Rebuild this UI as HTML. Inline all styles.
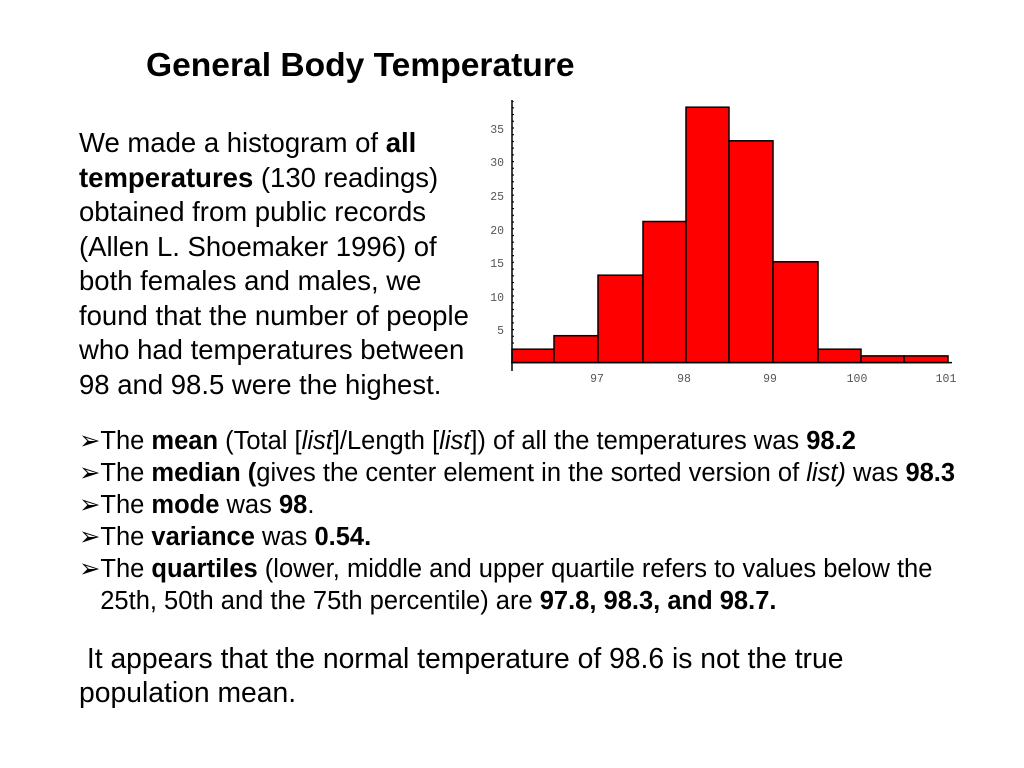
<!DOCTYPE html>
<html><head><meta charset="utf-8"><style>
body{margin:0;width:1024px;height:768px;background:#fff;position:relative;overflow:hidden;font-family:"Liberation Sans",Arial,sans-serif;color:#000}
.a{position:absolute;white-space:nowrap}
.p{font-size:27.5px;line-height:34.5px}
.b{font-size:25.5px;line-height:32px}
</style></head><body>
<div class="a" style="left:146px;top:46px;font-size:33.6px;line-height:40px;font-weight:bold">General Body Temperature</div>
<div class="a p" style="left:79px;top:126px">We made a histogram of <b>all</b><br><b>temperatures</b> (130 readings)<br>obtained from public records<br>(Allen L. Shoemaker 1996) of<br>both females and males, we<br>found that the number of people<br>who had temperatures between<br>98 and 98.5 were the highest.</div>
<div class="a b" style="left:79px;top:425px">➢The <b>mean</b> (Total [<i>list</i>]/Length [<i>list</i>]) of all the temperatures was <b>98.2</b><br>➢The <b>median (</b>gives the center element in the sorted version of <i>list)</i> was <b>98.3</b><br>➢The <b>mode</b> was <b>98</b>.<br>➢The <b>variance</b> was <b>0.54.</b><br>➢The <b>quartiles</b> (lower, middle and upper quartile refers to values below the<br>&nbsp;&nbsp;&nbsp;25th, 50th and the 75th percentile) are <b>97.8, 98.3, and 98.7.</b></div>
<div class="a" style="left:79px;top:641px;font-size:28.3px;line-height:34px">&nbsp;It appears that the normal temperature of 98.6 is not the true<br>population mean.</div>
<svg class="a" style="left:0;top:0" width="1024" height="768">
<defs><pattern id="t" patternUnits="userSpaceOnUse" x="0" y="362.6" width="10" height="6.72"><line x1="0" y1="0.5" x2="4" y2="0.5" stroke="#000" stroke-width="1.3"/></pattern></defs>
<rect x="512" y="101" width="4" height="262" fill="url(#t)"/>
<g fill="#ff0000" stroke="#000" stroke-width="1.5">
<rect x="512" y="349.2" width="42" height="13.4"/>
<rect x="554" y="335.7" width="44" height="26.9"/>
<rect x="598" y="275.2" width="45" height="87.4"/>
<rect x="643" y="221.5" width="43" height="141.1"/>
<rect x="686" y="107.2" width="43" height="255.4"/>
<rect x="729" y="140.8" width="44" height="221.8"/>
<rect x="773" y="261.8" width="45" height="100.8"/>
<rect x="818" y="349.2" width="43" height="13.4"/>
<rect x="861" y="355.9" width="43" height="6.7"/>
<rect x="904" y="355.9" width="44" height="6.7"/>
</g>
<line x1="512" y1="100" x2="512" y2="371" stroke="#000" stroke-width="1.5"/>
<line x1="511" y1="362.6" x2="952" y2="362.6" stroke="#000" stroke-width="1.5"/>
<g font-family="Liberation Mono,monospace" font-size="11.5" fill="#555" text-anchor="end">
<text x="504" y="133">35</text><text x="504" y="166">30</text><text x="504" y="200">25</text><text x="504" y="234">20</text><text x="504" y="267">15</text><text x="504" y="301">10</text><text x="504" y="334">5</text>
</g>
<g font-family="Liberation Mono,monospace" font-size="11.5" fill="#555" text-anchor="middle">
<text x="597" y="382">97</text><text x="684" y="382">98</text><text x="770" y="382">99</text><text x="857" y="382">100</text><text x="946" y="382">101</text>
</g>
</svg>
</body></html>
